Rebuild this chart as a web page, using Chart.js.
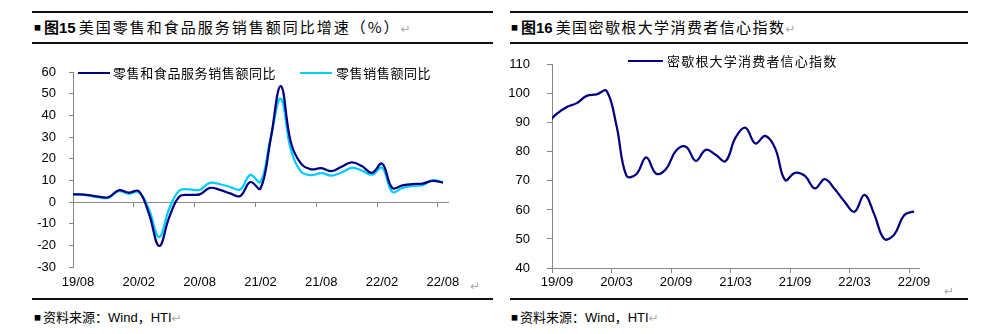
<!DOCTYPE html>
<html><head><meta charset="utf-8">
<script src="https://cdn.jsdelivr.net/npm/chart.js@4/dist/chart.umd.min.js"></script>
<style>
body{margin:0;width:997px;height:334px;background:#fff;position:relative;overflow:hidden;font-family:"Noto Sans CJK SC","Liberation Sans",sans-serif;color:#000;}
.hl{position:absolute;height:2px;background:#111;}
.title{position:absolute;top:18px;height:18px;line-height:18px;font-size:15px;white-space:nowrap;}
.title .sq{font-size:7px;vertical-align:middle;position:relative;top:-2px;margin-right:3px;}
.title b{font-family:"Noto Sans CJK SC","Liberation Sans",sans-serif;font-weight:bold;}
.title .num{font-family:"Liberation Sans",sans-serif;font-weight:bold;font-size:15px;}
.title .t{letter-spacing:1.4px;margin-left:3px;}
.ret{color:#aaa;font-size:12px;font-family:"DejaVu Sans",sans-serif;}
.src{position:absolute;top:308px;height:18px;line-height:18px;font-size:13px;white-space:nowrap;}
.src .sq{font-size:7px;vertical-align:middle;position:relative;top:-1px;margin-right:2px;}
.src .w{font-family:"Liberation Sans",sans-serif;}
canvas{position:absolute;}
.lgl{position:absolute;height:2px;}
.lgt{position:absolute;font-size:13px;line-height:16px;white-space:nowrap;}
.pm{position:absolute;color:#aaa;font-size:12px;font-family:"DejaVu Sans",sans-serif;}
</style>
</head><body>
<div class="hl" style="left:32px;width:461px;top:11px"></div>
<div class="hl" style="left:32px;width:461px;top:42px"></div>
<div class="hl" style="left:510px;width:458px;top:11px"></div>
<div class="hl" style="left:510px;width:458px;top:42px"></div>
<div class="hl" style="left:32px;width:461px;top:298px"></div>
<div class="hl" style="left:510px;width:458px;top:298px"></div>

<div class="title" style="left:34px"><span class="sq">■</span><b>图</b><span class="num">15</span><span class="t" style="letter-spacing:2px">美国零售和食品服务销售额同比增速（%）</span><span class="ret">↵</span></div>
<div class="title" style="left:511px"><span class="sq">■</span><b>图</b><span class="num">16</span><span class="t">美国密歇根大学消费者信心指数</span><span class="ret">↵</span></div>

<canvas id="c1" width="480" height="260" style="left:0;top:40px"></canvas>
<canvas id="c2" width="490" height="260" style="left:490px;top:40px"></canvas>

<div class="lgl" style="left:78px;top:72px;width:32px;background:#000080"></div>
<div class="lgt" style="left:113px;top:65px;letter-spacing:0.6px">零售和食品服务销售额同比</div>
<div class="lgl" style="left:300px;top:72px;width:32px;background:#00ccff"></div>
<div class="lgt" style="left:336px;top:65px;letter-spacing:0.6px">零售销售额同比</div>

<div class="lgl" style="left:628px;top:60px;width:35px;background:#000080"></div>
<div class="lgt" style="left:667px;top:53px;letter-spacing:1.2px">密歇根大学消费者信心指数</div>

<div class="pm" style="left:470px;top:279px">↵</div>
<div class="pm" style="left:944px;top:284px">↵</div>

<div class="src" style="left:34px"><span class="sq">■</span>资料来源：<span class="w">Wind</span>，<span class="w">HTI</span><span class="ret">↵</span></div>
<div class="src" style="left:511px"><span class="sq">■</span>资料来源：<span class="w">Wind</span>，<span class="w">HTI</span><span class="ret">↵</span></div>

<script>
// ---- Chart 1: US retail sales YoY (%) ----
const months1 = ['19/07','19/08','19/09','19/10','19/11','19/12',
  '20/01','20/02','20/03','20/04','20/05','20/06','20/07','20/08','20/09','20/10','20/11','20/12',
  '21/01','21/02','21/03','21/04','21/05','21/06','21/07','21/08','21/09','21/10','21/11','21/12',
  '22/01','22/02','22/03','22/04','22/05','22/06','22/07','22/08'];
const retailFood = [3.6,3.5,3.2,2.5,2.2,5.4,
  4.3,5.0,-5.5,-20.3,-7.0,2.5,3.3,3.5,6.5,5.6,4.0,2.8,
  9.2,6.2,29.0,53.5,27.5,17.7,15.1,15.6,14.2,16.3,18.3,16.6,
  13.5,17.7,6.5,7.7,8.3,8.5,9.8,8.9];
const retailOnly = [3.7,3.5,3.0,2.2,1.9,5.0,
  3.8,4.5,-3.5,-16.2,-3.0,5.3,5.8,5.6,8.8,8.2,6.9,5.8,
  12.5,9.2,29.5,47.7,24.0,14.0,12.4,13.3,12.2,13.6,15.8,14.5,
  12.6,15.8,4.6,6.5,7.4,7.8,10.1,9.1];
const tickLabels1 = ['19/08','20/02','20/08','21/02','21/08','22/02','22/08'];
const axisStart1 = '19/08', axisMonths1 = 37;

// ---- Chart 2: University of Michigan consumer sentiment ----
const months2 = ['19/08','19/09','19/10','19/11','19/12',
  '20/01','20/02','20/03','20/04','20/05','20/06','20/07','20/08','20/09','20/10','20/11','20/12',
  '21/01','21/02','21/03','21/04','21/05','21/06','21/07','21/08','21/09','21/10','21/11','21/12',
  '22/01','22/02','22/03','22/04','22/05','22/06','22/07','22/08','22/09'];
const sentiment = [89.8,93.2,95.5,96.8,99.3,
  99.8,101.0,89.1,71.8,72.3,78.1,72.5,74.1,80.4,81.8,76.9,80.7,
  79.0,76.8,84.9,88.3,82.9,85.5,81.2,70.3,72.8,71.7,67.4,70.6,
  67.2,62.8,59.4,65.2,58.4,50.0,51.5,58.2,59.5];
const tickLabels2 = ['19/09','20/03','20/09','21/03','21/09','22/03','22/09'];
const axisStart2 = '19/09', axisMonths2 = 37;

const NAVY = '#000080', SKY = '#00ccff', AXIS = '#868686';

// month position: mid-month relative to axis start month
function pos(m, start) {
  const [ya, ma] = m.split('/').map(Number), [yb, mb] = start.split('/').map(Number);
  return (ya - yb) * 12 + (ma - mb) + 0.5;
}

Chart.defaults.font.family = "'Liberation Sans', Arial, sans-serif";
Chart.defaults.font.size = 13;
Chart.defaults.color = '#000';

const common = {
  responsive: false, devicePixelRatio: 1, animation: false,
  plugins: { legend: { display: false }, tooltip: { enabled: false } },
  elements: { line: { capBezierPoints: false }, point: { radius: 0 } }
};

new Chart(document.getElementById('c1'), {
  type: 'line',
  data: { datasets: [
    { label: '零售和食品服务销售额同比', data: months1.map((m, i) => ({ x: pos(m, axisStart1), y: retailFood[i] })),
      borderColor: NAVY, borderWidth: 2.25, pointRadius: 0, tension: 0.4, fill: false },
    { label: '零售销售额同比', data: months1.map((m, i) => ({ x: pos(m, axisStart1), y: retailOnly[i] })),
      borderColor: SKY, borderWidth: 2.25, pointRadius: 0, tension: 0.4, fill: false }
  ]},
  options: Object.assign({}, common, {
    layout: { padding: { left: 10, right: 32, top: 32, bottom: 5 } },
    scales: {
      x: { type: 'linear', position: 'bottom', min: 0, max: axisMonths1,
        afterFit: s => { s.height = 28; },
        grid: { display: false, drawTicks: false }, border: { display: false },
        ticks: { stepSize: 6, includeBounds: false, autoSkip: false, maxRotation: 0, labelOffset: 5, padding: 8,
          callback: v => tickLabels1[v / 6] } },
      x2: { type: 'linear', position: { y: 0 }, min: 0, max: axisMonths1,
        grid: { drawOnChartArea: false, tickLength: 4, color: AXIS },
        border: { color: AXIS, width: 1 },
        ticks: { stepSize: 6, includeBounds: false, display: false } },
      y: { min: -30, max: 60, afterFit: s => { s.width = 63; },
        grid: { drawOnChartArea: false, tickLength: 4, color: AXIS },
        border: { color: AXIS, width: 1 },
        ticks: { stepSize: 10, padding: 13 } }
    }
  })
});

new Chart(document.getElementById('c2'), {
  type: 'line',
  data: { datasets: [
    { label: '密歇根大学消费者信心指数', data: months2.map((m, i) => ({ x: pos(m, axisStart2), y: sentiment[i] })),
      borderColor: NAVY, borderWidth: 2.25, pointRadius: 0, tension: 0.4, fill: false }
  ]},
  options: Object.assign({}, common, {
    layout: { padding: { left: 10, right: 61, top: 20, bottom: 5 } },
    scales: {
      x: { type: 'linear', position: 'bottom', min: 0, max: axisMonths2,
        afterFit: s => { s.height = 27; },
        grid: { drawOnChartArea: false, tickLength: 5, color: AXIS },
        border: { color: AXIS, width: 1 },
        ticks: { stepSize: 6, includeBounds: false, autoSkip: false, maxRotation: 0, labelOffset: 5, padding: 2,
          callback: v => tickLabels2[v / 6] } },
      y: { min: 40, max: 110, afterFit: s => { s.width = 52; },
        grid: { drawOnChartArea: false, tickLength: 5, color: AXIS },
        border: { color: AXIS, width: 1 },
        ticks: { stepSize: 10, padding: 17 } }
    }
  })
});
</script>
</body></html>
